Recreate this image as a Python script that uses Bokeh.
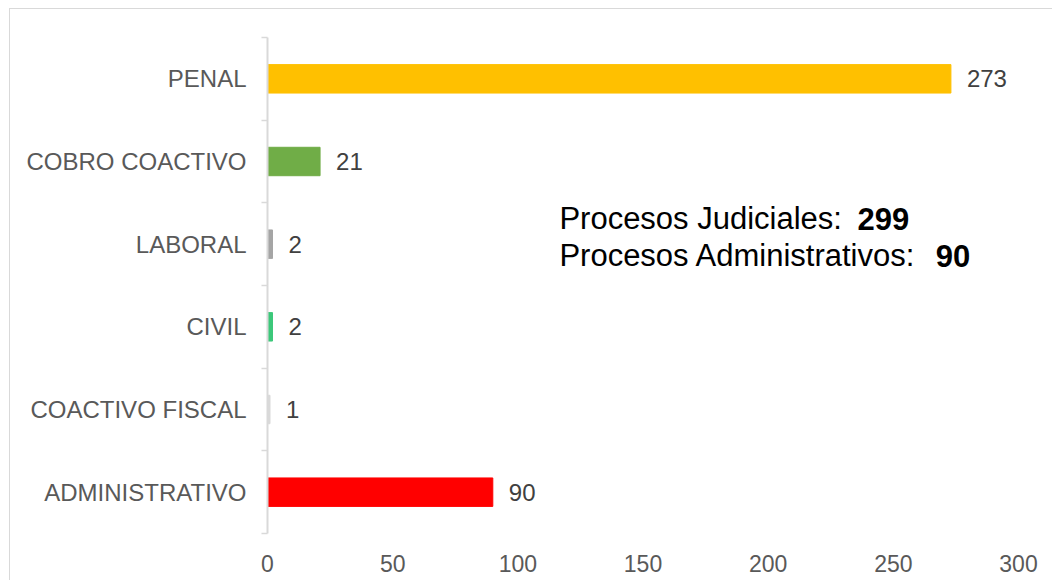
from bokeh.plotting import figure
from bokeh.models import Range1d, FixedTicker, Label, ColumnDataSource
from bokeh.embed import file_html
from bokeh.resources import INLINE
from bokeh.core.properties import value

# ---- data ----
categories = ["PENAL", "COBRO COACTIVO", "LABORAL", "CIVIL", "COACTIVO FISCAL", "ADMINISTRATIVO"]
counts = [273, 21, 2, 2, 1, 90]
bar_colors = ["#FFC000", "#70AD47", "#A5A5A5", "#3CC87A", "#D9D9D9", "#FF0000"]
x_ticks = [0, 50, 100, 150, 200, 250, 300]
summary_labels = ["Procesos Judiciales:", "Procesos Administrativos:"]
summary_values = [299, 90]

FONT = "Liberation Sans"
n = len(categories)
ypos = [n - i - 0.5 for i in range(n)]

src = ColumnDataSource(dict(y=ypos, right=counts, color=bar_colors,
                            label=[str(c) for c in counts], cat=categories))

# light chart border on the top and left (drawn by the host element's background)
border_css = ("linear-gradient(#D9D9D9, #D9D9D9) 9px 8px / 100% 1px no-repeat, "
              "linear-gradient(#D9D9D9, #D9D9D9) 9px 8px / 1px 100% no-repeat, #FFFFFF")

p = figure(frame_width=751, frame_height=496,
           min_border_left=267, min_border_right=34, min_border_top=37, min_border_bottom=47,
           output_backend="svg", toolbar_location=None,
           x_range=Range1d(0, 300), y_range=Range1d(0, n),
           styles={"background": border_css})
p.border_fill_color = None
p.background_fill_color = None

p.hbar(y="y", right="right", left=0, height=0.344, color="color", source=src)
p.text(x="right", y="y", text="label", x_offset=16, text_baseline="middle",
       text_align="left", text_font_size="24px", text_color="#404040",
       text_font=value(FONT), source=src)

p.xgrid.visible = False
p.ygrid.visible = False
p.outline_line_color = None

# y axis
ya = p.yaxis[0]
ya.ticker = FixedTicker(ticks=ypos, minor_ticks=list(range(n + 1)))
ya.major_label_overrides = {y: c for y, c in zip(ypos, categories)}
ya.axis_line_color = "#D9D9D9"
ya.axis_line_width = 2
ya.major_tick_out = 0
ya.major_tick_in = 0
ya.minor_tick_out = 6
ya.minor_tick_in = 0
ya.minor_tick_line_color = "#D9D9D9"
ya.minor_tick_line_width = 1.5
ya.major_label_standoff = 15
ya.major_label_text_font = FONT
ya.major_label_text_font_size = "24px"
ya.major_label_text_color = "#595959"

# x axis
xa = p.xaxis[0]
xa.ticker = FixedTicker(ticks=x_ticks)
xa.axis_line_color = None
xa.major_tick_line_color = None
xa.minor_tick_line_color = None
xa.major_label_standoff = 15
xa.major_label_text_font = FONT
xa.major_label_text_font_size = "23px"
xa.major_label_text_color = "#595959"

# summary annotation
line_x = [116.6, 116.6]
line_y = [3.806, 3.358]
bold_x = [235.7, 266.9]
for lbl, val, lx, ly, bx in zip(summary_labels, summary_values, line_x, line_y, bold_x):
    p.add_layout(Label(x=lx, y=ly, text=lbl, text_font=FONT, text_font_size="31px",
                       text_color="#000000", text_baseline="alphabetic"))
    p.add_layout(Label(x=bx, y=ly, text=str(val), text_font=FONT, text_font_size="31px",
                       text_font_style="bold", text_color="#000000", text_baseline="alphabetic"))

open("out.html", "w").write(file_html(p, INLINE))
